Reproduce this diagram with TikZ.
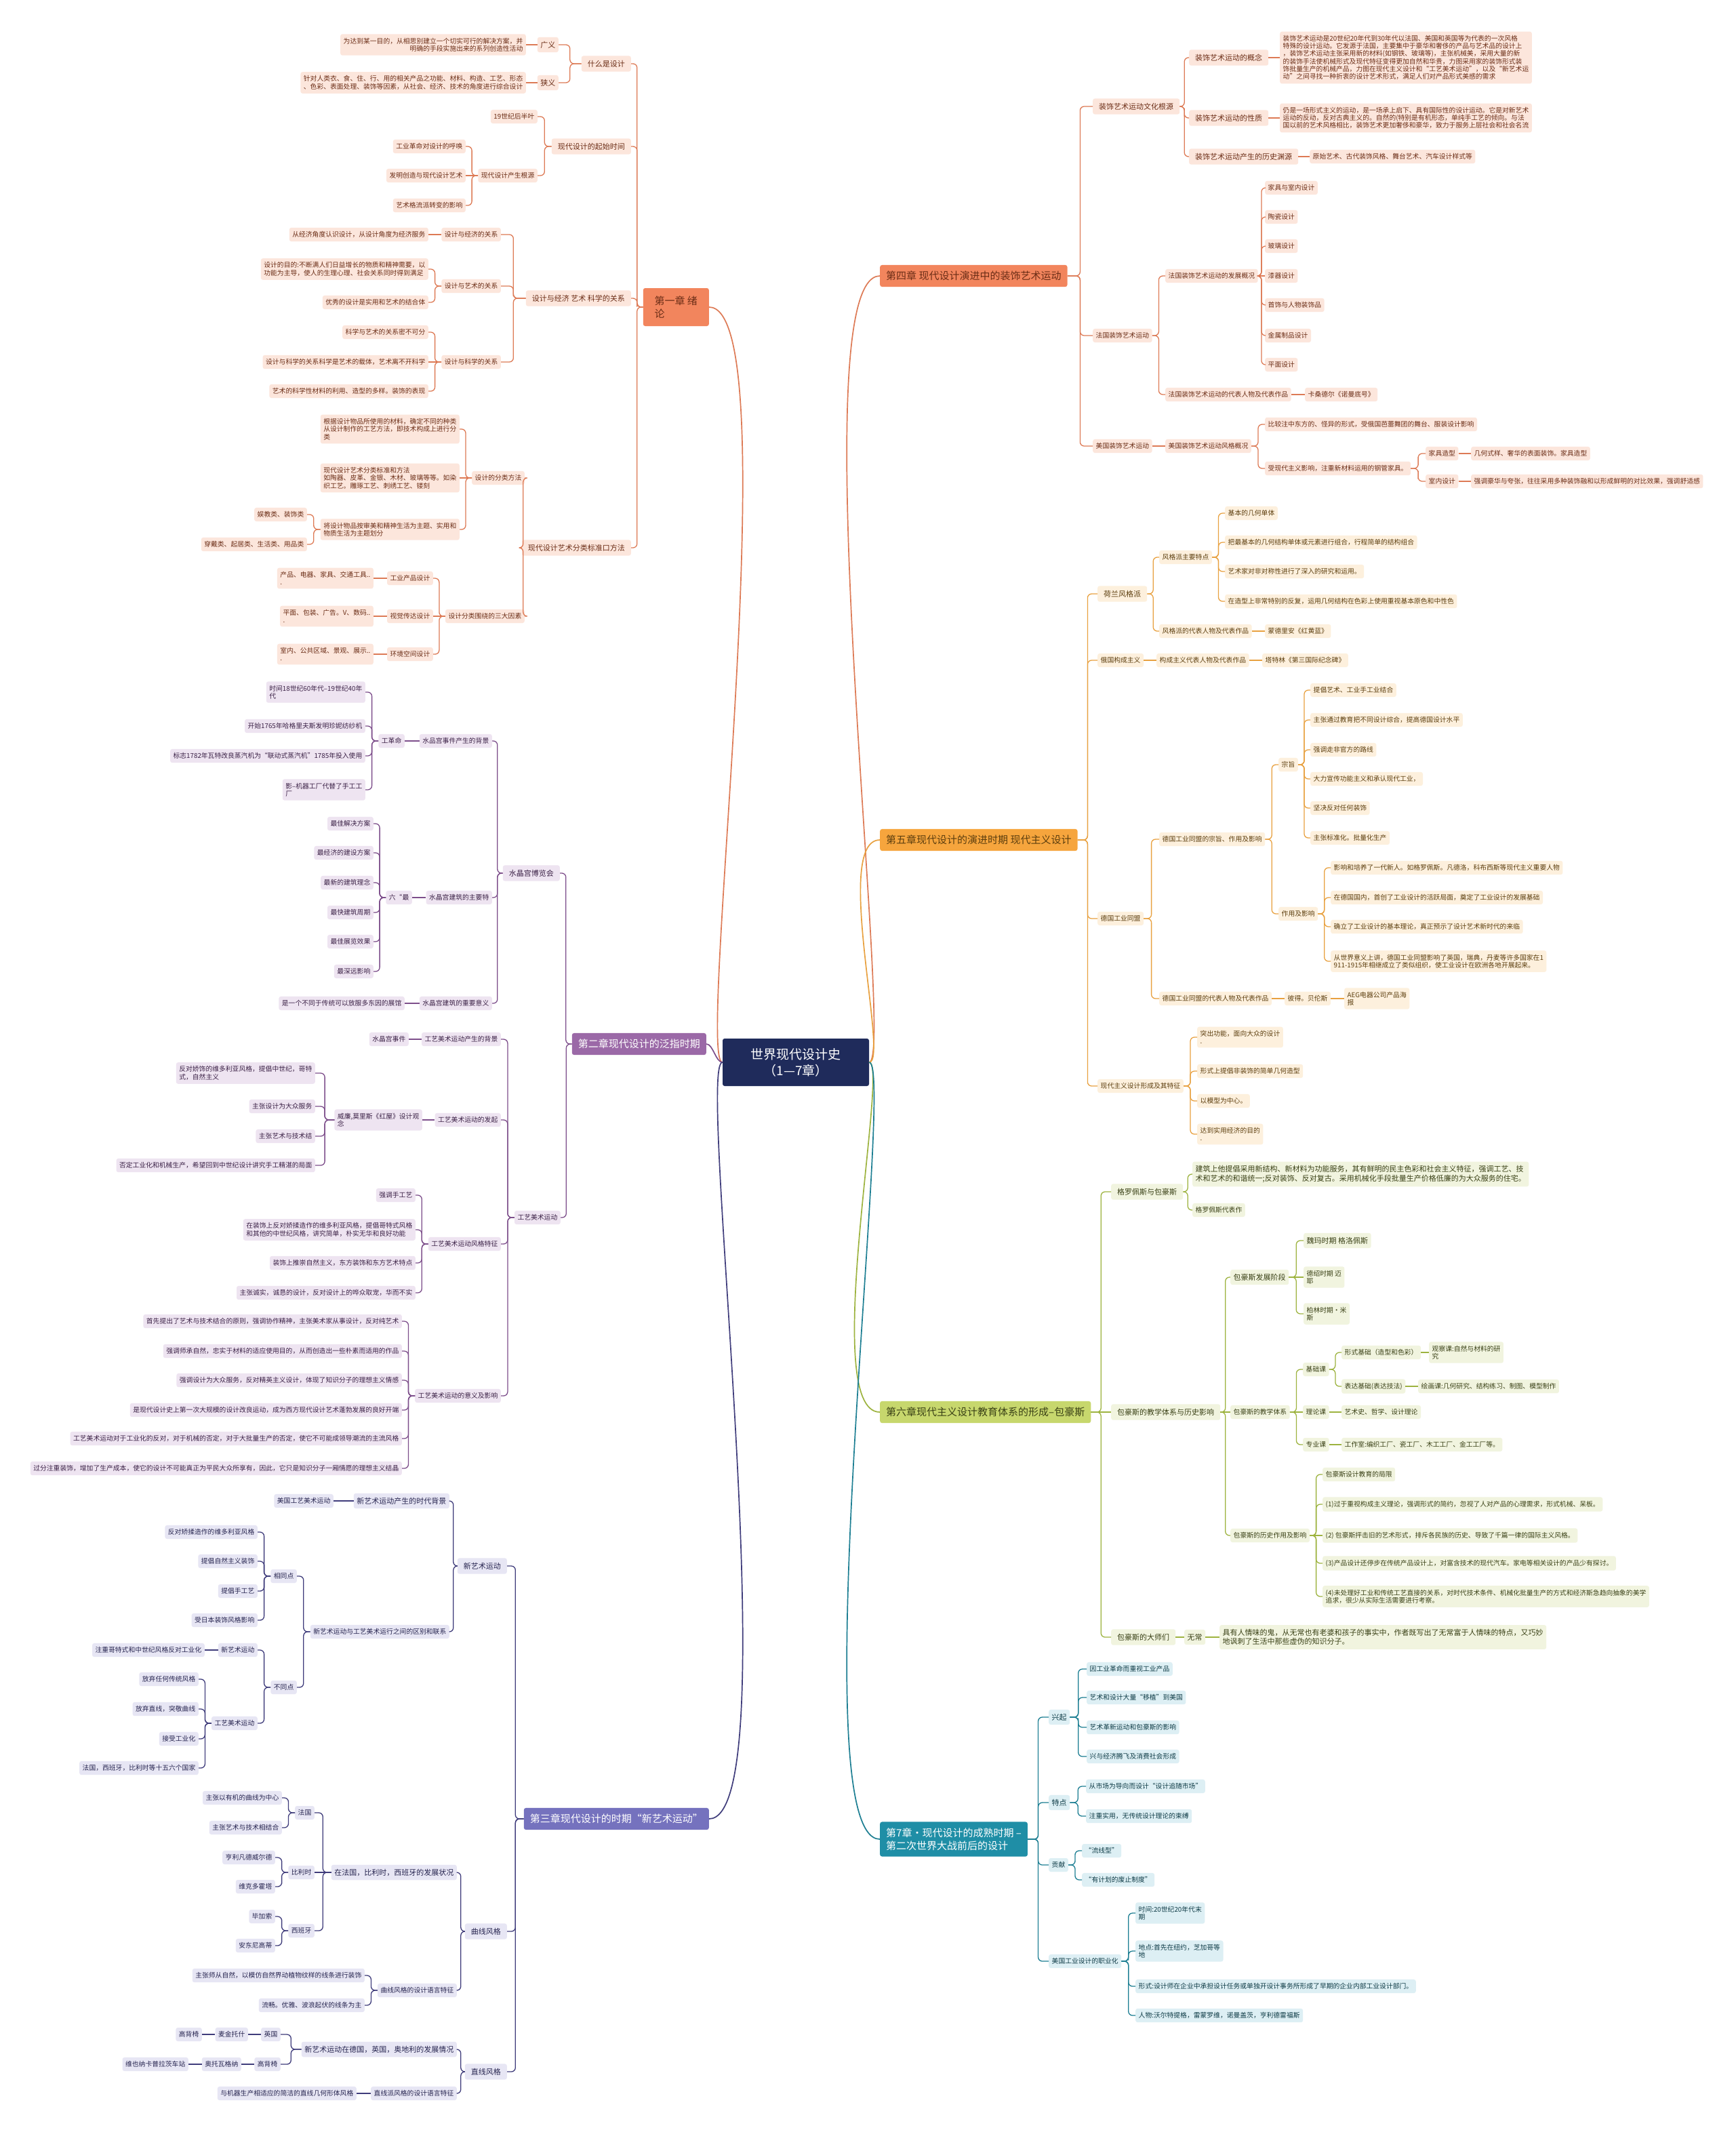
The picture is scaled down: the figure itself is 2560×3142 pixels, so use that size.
\documentclass[tikz,border=0pt]{standalone}
\usepackage{fontspec}
\setmainfont{Noto Sans CJK SC}
\usetikzlibrary{calc}
\definecolor{navy}{HTML}{1F2B5B}
\definecolor{coral}{HTML}{F2855D}
\definecolor{coralln}{HTML}{DD7A55}
\definecolor{coralbg}{HTML}{FCE6DC}
\definecolor{coraltx}{HTML}{6B2D16}
\definecolor{plum}{HTML}{9B69A7}
\definecolor{plumln}{HTML}{7D4E8B}
\definecolor{plumbg}{HTML}{EEE4F1}
\definecolor{plumtx}{HTML}{3B2146}
\definecolor{indigo}{HTML}{7572BE}
\definecolor{indigoln}{HTML}{3F3C7B}
\definecolor{indigobg}{HTML}{E7E6F4}
\definecolor{indigotx}{HTML}{26244F}
\definecolor{amber}{HTML}{F6A53D}
\definecolor{amberln}{HTML}{E8A140}
\definecolor{amberbg}{HTML}{FDF0DD}
\definecolor{ambertx}{HTML}{5C3E0E}
\definecolor{moss}{HTML}{C7D76D}
\definecolor{mossln}{HTML}{9DB33F}
\definecolor{mossbg}{HTML}{F1F4DF}
\definecolor{mosstx}{HTML}{394015}
\definecolor{lagoon}{HTML}{1F8EA6}
\definecolor{lagoonln}{HTML}{1C7E92}
\definecolor{lagoonbg}{HTML}{DDEFF4}
\definecolor{lagoontx}{HTML}{0E3B46}

\begin{document}
\begin{tikzpicture}[x=1pt,y=-1pt,
  every node/.style={inner xsep=4.5pt,inner ysep=5.5pt,rounded corners=3pt,align=left,
    font=\fontsize{9.8}{11.3}\selectfont},
  ae/.style={anchor=east},aw/.style={anchor=west},
  big/.style={font=\fontsize{11}{13.5}\selectfont,inner ysep=6pt},
  mid/.style={big,inner xsep=9pt,inner ysep=6.5pt},
  chap/.style={font=\fontsize{15}{19}\selectfont,inner xsep=9pt,inner ysep=9pt},
  coralnode/.style={fill=coralbg,text=coraltx},
  plumnode/.style={fill=plumbg,text=plumtx},
  indigonode/.style={fill=indigobg,text=indigotx},
  ambernode/.style={fill=amberbg,text=ambertx},
  mossnode/.style={fill=mossbg,text=mosstx},
  lagoonnode/.style={fill=lagoonbg,text=lagoontx},
  link/.style={line width=1.3pt,rounded corners=6pt},
  trunk/.style={line width=1.7pt}]
\useasboundingbox (0,0) rectangle (2560,3142);
\fill[white] (0,0) rectangle (2560,3142);

\node[fill=navy,text=white,font=\fontsize{19}{24}\selectfont,align=center,minimum width=216pt,minimum height=70pt] (root) at (1174,1567) {世界现代设计史\\（1—7章）};

% chapter 1
\node[chap,fill=coral,text=coraltx,ae,minimum width=97pt,minimum height=56pt] (c1) at (1046,453) {第一章 绪\\论};
\node[coralnode,mid,ae] (c1a) at (931,94) {什么是设计};
\node[coralnode,big,ae] (c1a1) at (824,66) {广义};
\node[coralnode,ae,align=right] (c1a1a) at (776,66) {为达到某一目的，从相思别建立一个切实可行的解决方案，并\\明确的手段实施出来的系列创造性活动};
\node[coralnode,big,ae] (c1a2) at (824,122) {狭义};
\node[coralnode,ae] (c1a2a) at (776,122) {针对人类衣、食、住、行、用的相关产品之功能、材料、构造、工艺、形态\\、色彩、表面处理、装饰等因素，从社会、经济、技术的角度进行综合设计};
\node[coralnode,mid,ae] (c1b) at (931,216) {现代设计的起始时间};
\node[coralnode,ae] (c1b1) at (793,172) {19世纪后半叶};
\node[coralnode,ae] (c1b2) at (793,259) {现代设计产生根源};
\node[coralnode,ae] (c1b2a) at (687,216) {工业革命对设计的呼唤};
\node[coralnode,ae] (c1b2b) at (687,259) {发明创造与现代设计艺术};
\node[coralnode,ae] (c1b2c) at (687,303) {艺术格流派转变的影响};
\node[coralnode,mid,ae] (c1c) at (931,440) {设计与经济 艺术 科学的关系};
\node[coralnode,ae] (c1c1) at (739,346) {设计与经济的关系};
\node[coralnode,ae] (c1c1a) at (632,346) {从经济角度认识设计，从设计角度为经济服务};
\node[coralnode,ae] (c1c2) at (739,422) {设计与艺术的关系};
\node[coralnode,ae] (c1c2a) at (632,397) {设计的目的:不断满人们日益增长的物质和精神需要，以\\功能为主导，使人的生理心理、社会关系同时得到满足};
\node[coralnode,ae] (c1c2b) at (632,446) {优秀的设计是实用和艺术的结合体};
\node[coralnode,ae] (c1c3) at (739,534) {设计与科学的关系};
\node[coralnode,ae] (c1c3a) at (632,490) {科学与艺术的关系密不可分};
\node[coralnode,ae] (c1c3b) at (632,534) {设计与科学的关系科学是艺术的载体，艺术离不开科学};
\node[coralnode,ae] (c1c3c) at (632,577) {艺术的科学性材料的利用、造型的多样。装饰的表现};
\node[coralnode,mid,ae] (c1d) at (931,808) {现代设计艺术分类标准口方法};
\node[coralnode,ae] (c1d1) at (774,705) {设计的分类方法};
\node[coralnode,ae] (c1d1a) at (678,633) {根据设计物品所使用的材料，确定不同的种类\\从设计制作的工艺方法，即技术构成上进行分\\类};
\node[coralnode,ae] (c1d1b) at (678,705) {现代设计艺术分类标准和方法\\如陶器、皮革、金银、木材、玻璃等等。如染\\织工艺。雕琢工艺、刺绣工艺、镂刻};
\node[coralnode,ae] (c1d1c) at (678,781) {将设计物品按审美和精神生活为主题、实用和\\物质生活为主题划分};
\node[coralnode,ae] (c1d1c1) at (453,759) {娱教类、装饰类};
\node[coralnode,ae] (c1d1c2) at (453,803) {穿戴类、起居类、生活类、用品类};
\node[coralnode,ae] (c1d2) at (774,909) {设计分类围绕的三大因素};
\node[coralnode,ae] (c1d2a) at (639,853) {工业产品设计};
\node[coralnode,ae] (c1d2a1) at (551,853) {产品、电器、家具、交通工具..\\.};
\node[coralnode,ae] (c1d2b) at (639,909) {视觉传达设计};
\node[coralnode,ae] (c1d2b1) at (551,909) {平面、包装、广告。V、数码..\\.};
\node[coralnode,ae] (c1d2c) at (639,965) {环境空间设计};
\node[coralnode,ae] (c1d2c1) at (551,965) {室内、公共区域、景观、展示..\\.};

% chapter 2
\node[chap,fill=plum,text=white,ae] (c2) at (1042,1540) {第二章现代设计的泛指时期};
\node[plumnode,mid,ae] (c2a) at (826,1288) {水晶宫博览会};
\node[plumnode,ae] (c2a1) at (726,1093) {水品宫事件产生的背景};
\node[plumnode,ae] (c2a1a) at (597,1093) {工革命};
\node[plumnode,ae] (c2a1a1) at (539,1021) {时间18世纪60年代--19世纪40年\\代};
\node[plumnode,ae] (c2a1a2) at (539,1071) {开始1765年哈格里夫斯发明珍妮纺纱机};
\node[plumnode,ae] (c2a1a3) at (539,1115) {标志1782年瓦特改良蒸汽机为“联动式蒸汽机”1785年投入使用};
\node[plumnode,ae] (c2a1a4) at (539,1165) {影–机器工厂代替了手工工\\厂};
\node[plumnode,ae] (c2a2) at (726,1324) {水晶宫建筑的主要特};
\node[plumnode,ae] (c2a2a) at (608,1324) {六“最};
\node[plumnode,ae] (c2a2a1) at (551,1215) {最佳解决方案};
\node[plumnode,ae] (c2a2a2) at (551,1258) {最经济的建设方案};
\node[plumnode,ae] (c2a2a3) at (551,1302) {最新的建筑理念};
\node[plumnode,ae] (c2a2a4) at (551,1346) {最快建筑周期};
\node[plumnode,ae] (c2a2a5) at (551,1389) {最佳展览效果};
\node[plumnode,ae] (c2a2a6) at (551,1433) {最深远影响};
\node[plumnode,ae] (c2a3) at (726,1480) {水晶宫建筑的重要意义};
\node[plumnode,ae] (c2a3a) at (597,1480) {是一个不同于传统可以放服多东因的展馆};
\node[plumnode,ae] (c2b) at (827,1796) {工艺美术运动};
\node[plumnode,ae] (c2b1) at (739,1533) {工艺美术运动产生的背景};
\node[plumnode,ae] (c2b1a) at (603,1533) {水晶宫事件};
\node[plumnode,ae] (c2b2) at (739,1652) {工艺美术运动的发起};
\node[plumnode,ae] (c2b2a) at (623,1652) {威廉,莫里斯《红屋》设计观\\念};
\node[plumnode,ae] (c2b2a1) at (465,1583) {反对娇饰的维多利亚风格，提倡中世纪，哥特\\式，自然主义};
\node[plumnode,ae] (c2b2a2) at (465,1632) {主张设计为大众服务};
\node[plumnode,ae] (c2b2a3) at (465,1676) {主张艺术与技术结};
\node[plumnode,ae] (c2b2a4) at (465,1719) {否定工业化和机械生产，希望回到中世纪设计讲究手工精湛的局面};
\node[plumnode,ae] (c2b3) at (739,1835) {工艺美术运动风格特征};
\node[plumnode,ae] (c2b3a) at (613,1763) {强调手工艺};
\node[plumnode,ae] (c2b3b) at (613,1814) {在装饰上反对娇揉造作的维多利亚风格，提倡哥特式风格\\和其他的中世纪风格，讲究简单，朴实无华和良好功能};
\node[plumnode,ae] (c2b3c) at (613,1863) {装饰上推崇自然主义，东方装饰和东方艺术特点};
\node[plumnode,ae] (c2b3d) at (613,1907) {主张诚实，诚恳的设计，反对设计上的哗众取宠，华而不实};
\node[plumnode,ae] (c2b4) at (739,2059) {工艺美术运动的意义及影响};
\node[plumnode,ae] (c2b4a) at (593,1949) {首先提出了艺术与技术结合的原则，强调协作精神，主张美术家从事设计，反对纯艺术};
\node[plumnode,ae] (c2b4b) at (593,1993) {强调师承自然，忠实于材料的适应使用目的，从而创造出一些朴素而适用的作品};
\node[plumnode,ae] (c2b4c) at (593,2036) {强调设计为大众服务，反对精英主义设计，体现了知识分子的理想主义情感};
\node[plumnode,ae] (c2b4d) at (593,2080) {是现代设计史上第一次大规模的设计改良运动，成为西方现代设计艺术蓬勃发展的良好开端};
\node[plumnode,ae] (c2b4e) at (593,2122) {工艺美术运动对于工业化的反对，对于机械的否定，对于大批量生产的否定，使它不可能成领导潮流的主流风格};
\node[plumnode,ae] (c2b4f) at (593,2166) {过分注重装饰，增加了生产成本，使它的设计不可能真正为平民大众所享有，因此，它只是知识分子一厢情愿的理想主义结晶};

% chapter 3
\node[chap,fill=indigo,text=white,ae] (c3) at (1046,2683) {第三章现代设计的时期“新艺术运动”};
\node[indigonode,mid,ae] (c3a) at (748,2310) {新艺术运动};
\node[indigonode,big,ae] (c3a1) at (663,2214) {新艺术运动产生的时代背景};
\node[indigonode,ae] (c3a1a) at (492,2214) {美国工艺美术运动};
\node[indigonode,ae] (c3a2) at (663,2407) {新艺术运动与工艺美术运行之间的区别和联系};
\node[indigonode,ae] (c3a2a) at (438,2325) {相同点};
\node[indigonode,ae] (c3a2a1) at (380,2260) {反对矫揉造作的维多利亚风格};
\node[indigonode,ae] (c3a2a2) at (380,2303) {提倡自然主义装饰};
\node[indigonode,ae] (c3a2a3) at (380,2347) {提倡手工艺};
\node[indigonode,ae] (c3a2a4) at (380,2390) {受日本装饰风格影响};
\node[indigonode,ae] (c3a2b) at (438,2489) {不同点};
\node[indigonode,ae] (c3a2b1) at (380,2434) {新艺术运动};
\node[indigonode,ae] (c3a2b1a) at (302,2434) {注重哥特式和中世纪风格反对工业化};
\node[indigonode,ae] (c3a2b2) at (380,2542) {工艺美术运动};
\node[indigonode,ae] (c3a2b2a) at (293,2477) {放弃任何传统风格};
\node[indigonode,ae] (c3a2b2b) at (293,2521) {放弃直线，突敬曲线};
\node[indigonode,ae] (c3a2b2c) at (293,2565) {接受工业化};
\node[indigonode,ae] (c3a2b2d) at (293,2608) {法国，西班牙，比利时等十五六个国家};
\node[indigonode,mid,ae] (c3b) at (748,2849) {曲线风格};
\node[indigonode,big,ae] (c3b1) at (674,2762) {在法国，比利时，西班牙的发展状况};
\node[indigonode,ae] (c3b1a) at (464,2674) {法国};
\node[indigonode,ae] (c3b1a1) at (416,2652) {主张以有机的曲线为中心};
\node[indigonode,ae] (c3b1a2) at (416,2696) {主张艺术与技术相结合};
\node[indigonode,ae] (c3b1b) at (464,2762) {比利时};
\node[indigonode,ae] (c3b1b1) at (406,2740) {亨利凡德威尔德};
\node[indigonode,ae] (c3b1b2) at (406,2783) {维克多霍塔};
\node[indigonode,ae] (c3b1c) at (464,2848) {西班牙};
\node[indigonode,ae] (c3b1c1) at (406,2827) {毕加索};
\node[indigonode,ae] (c3b1c2) at (406,2870) {安东尼高蒂};
\node[indigonode,ae] (c3b2) at (674,2936) {曲线风格的设计语言特征};
\node[indigonode,ae] (c3b2a) at (538,2914) {主张师从自然，以模仿自然界动植物纹样的线条进行装饰};
\node[indigonode,ae] (c3b2b) at (538,2958) {流畅。优雅、波浪起伏的线条为主};
\node[indigonode,mid,ae] (c3c) at (748,3056) {直线风格};
\node[indigonode,big,ae] (c3c1) at (674,3023) {新艺术运动在德国，英国，奥地利的发展情况};
\node[indigonode,ae] (c3c1a) at (414,3001) {英国};
\node[indigonode,ae] (c3c1a1) at (366,3001) {麦金托什};
\node[indigonode,ae] (c3c1a2) at (298,3001) {高背椅};
\node[indigonode,ae] (c3c1b) at (414,3045) {高背椅};
\node[indigonode,ae] (c3c1b1) at (356,3045) {奥托瓦格纳};
\node[indigonode,ae] (c3c1b2) at (278,3045) {维也纳卡普拉茨车站};
\node[indigonode,ae] (c3c2) at (674,3088) {直线派风格的设计语言特征};
\node[indigonode,ae] (c3c2a) at (526,3088) {与机器生产相适应的简洁的直线几何形体风格};

% chapter 4
\node[chap,fill=coral,text=coraltx,aw] (c4) at (1298,407) {第四章 现代设计演进中的装饰艺术运动};
\node[coralnode,mid,aw] (c4a) at (1612,157) {装饰艺术运动文化根源};
\node[coralnode,mid,aw] (c4a1) at (1754,85) {装饰艺术运动的概念};
\node[coralnode,aw] (c4a1a) at (1888,85) {装饰艺术运动是20世纪20年代到30年代以法国、美国和英国等为代表的一次风格\\特殊的设计运动。它发源于法国，主要集中于豪华和奢侈的产品与艺术品的设计上\\，装饰艺术运动主张采用新的材料(如钢铁、玻璃等)，主张机械美，采用大量的新\\的装饰手法使机械形式及现代特征变得更加自然和华贵，力图采用家的装饰形式装\\饰批量生产的机械产品，力图在现代主义设计和“工艺美术运动”，以及“新艺术运\\动”之间寻找一种折衷的设计艺术形式，满足人们对产品形式美感的需求};
\node[coralnode,mid,aw] (c4a2) at (1754,174) {装饰艺术运动的性质};
\node[coralnode,aw] (c4a2a) at (1888,174) {仍是一场形式主义的运动，是一场承上启下、具有国际性的设计运动。它是对新艺术\\运动的反动，反对古典主义的。自然的(特别是有机形态，单纯手工艺的倾向。与法\\国以前的艺术风格相比，装饰艺术更加奢侈和豪华，致力于服务上层社会和社会名流};
\node[coralnode,mid,aw] (c4a3) at (1754,231) {装饰艺术运动产生的历史渊源};
\node[coralnode,aw] (c4a3a) at (1932,231) {原始艺术、古代装饰风格、舞台艺术、汽车设计样式等};
\node[coralnode,aw] (c4b) at (1612,495) {法国装饰艺术运动};
\node[coralnode,aw] (c4b1) at (1719,407) {法国装饰艺术运动的发展概况};
\node[coralnode,aw] (c4b1a) at (1866,277) {家具与室内设计};
\node[coralnode,aw] (c4b1b) at (1866,320) {陶瓷设计};
\node[coralnode,aw] (c4b1c) at (1866,363) {玻璃设计};
\node[coralnode,aw] (c4b1d) at (1866,407) {漆器设计};
\node[coralnode,aw] (c4b1e) at (1866,450) {首饰与人物装饰品};
\node[coralnode,aw] (c4b1f) at (1866,495) {金属制品设计};
\node[coralnode,aw] (c4b1g) at (1866,538) {平面设计};
\node[coralnode,aw] (c4b2) at (1719,582) {法国装饰艺术运动的代表人物及代表作品};
\node[coralnode,aw] (c4b2a) at (1925,582) {卡桑德尔《诺曼底号》};
\node[coralnode,aw] (c4c) at (1612,658) {美国装饰艺术运动};
\node[coralnode,aw] (c4c1) at (1719,658) {美国装饰艺术运动风格概况};
\node[coralnode,aw] (c4c1a) at (1866,626) {比较注中东方的、怪异的形式，受俄国芭蕾舞团的舞台、服装设计影响};
\node[coralnode,aw] (c4c1b) at (1866,691) {受现代主义影响，注重新材料运用的钢管家具。};
\node[coralnode,aw] (c4c1b1) at (2103,669) {家具造型};
\node[coralnode,aw] (c4c1b1a) at (2170,669) {几何式样、奢华的表面装饰。家具造型};
\node[coralnode,aw] (c4c1b2) at (2103,710) {室内设计};
\node[coralnode,aw] (c4c1b2a) at (2170,710) {强调豪华与夸张，往往采用多种装饰融和以形成鲜明的对比效果，强调舒适感};

% chapter 5
\node[chap,fill=amber,text=ambertx,aw] (c5) at (1298,1239) {第五章现代设计的演进时期 现代主义设计};
\node[ambernode,mid,aw] (c5a) at (1619,876) {荷兰风格派};
\node[ambernode,aw] (c5a1) at (1710,822) {风格派主要特点};
\node[ambernode,aw] (c5a1a) at (1807,757) {基本的几何单体};
\node[ambernode,aw] (c5a1b) at (1807,800) {把最基本的几何结构单体或元素进行组合，行程简单的结构组合};
\node[ambernode,aw] (c5a1c) at (1807,843) {艺术家对非对称性进行了深入的研究和运用。};
\node[ambernode,aw] (c5a1d) at (1807,887) {在造型上非常特别的反复，运用几何结构在色彩上使用重视基本原色和中性色};
\node[ambernode,aw] (c5a2) at (1710,931) {风格派的代表人物及代表作品};
\node[ambernode,aw] (c5a2a) at (1866,931) {蒙德里安《红黄蓝》};
\node[ambernode,aw] (c5b) at (1619,974) {俄国构成主义};
\node[ambernode,aw] (c5b1) at (1706,974) {构成主义代表人物及代表作品};
\node[ambernode,aw] (c5b1a) at (1862,974) {塔特林《第三国际纪念碑》};
\node[ambernode,aw] (c5c) at (1619,1355) {德国工业同盟};
\node[ambernode,aw] (c5c1) at (1710,1238) {德国工业同盟的宗旨、作用及影响};
\node[ambernode,aw] (c5c1a) at (1886,1128) {宗旨};
\node[ambernode,aw] (c5c1a1) at (1933,1018) {提倡艺术、工业手工业结合};
\node[ambernode,aw] (c5c1a2) at (1933,1062) {主张通过教育把不同设计综合，提高德国设计水平};
\node[ambernode,aw] (c5c1a3) at (1933,1106) {强调走非官方的路线};
\node[ambernode,aw] (c5c1a4) at (1933,1149) {大力宣传功能主义和承认现代工业，};
\node[ambernode,aw] (c5c1a5) at (1933,1192) {坚决反对任何装饰};
\node[ambernode,aw] (c5c1a6) at (1933,1236) {主张标准化。批量化生产};
\node[ambernode,aw] (c5c1b) at (1886,1348) {作用及影响};
\node[ambernode,aw] (c5c1b1) at (1963,1280) {影响和培养了一代新人。如格罗佩斯。凡德洛，科布西斯等现代主义重要人物};
\node[ambernode,aw] (c5c1b2) at (1963,1324) {在德国国内，首创了工业设计的活跃局面，奠定了工业设计的发展基础};
\node[ambernode,aw] (c5c1b3) at (1963,1367) {确立了工业设计的基本理论，真正预示了设计艺术新时代的来临};
\node[ambernode,aw] (c5c1b4) at (1963,1418) {从世界意义上讲，德国工业同盟影响了英国，瑞典，丹麦等许多国家在1\\911-1915年相继成立了类似组织，使工业设计在欧洲各地开展起来。};
\node[ambernode,aw] (c5c2) at (1710,1473) {德国工业同盟的代表人物及代表作品};
\node[ambernode,aw] (c5c2a) at (1895,1473) {彼得。贝伦斯};
\node[ambernode,aw] (c5c2b) at (1983,1473) {AEG电器公司产品海\\报};
\node[ambernode,aw] (c5d) at (1619,1602) {现代主义设计形成及其特征};
\node[ambernode,aw] (c5d1) at (1766,1530) {突出功能，面向大众的设计\\.};
\node[ambernode,aw] (c5d2) at (1766,1580) {形式上提倡非装饰的简单几何造型};
\node[ambernode,aw] (c5d3) at (1766,1624) {以模型为中心。};
\node[ambernode,aw] (c5d4) at (1766,1673) {达到实用经济的目的\\.};

% chapter 6
\node[chap,fill=moss,text=mosstx,aw] (c6) at (1298,2083) {第六章现代主义设计教育体系的形成–包豪斯};
\node[mossnode,mid,aw] (c6a) at (1639,1758) {格罗佩斯与包豪斯};
\node[mossnode,big,aw] (c6a1) at (1759,1732) {建筑上他提倡采用新结构、新材料为功能服务，其有鲜明的民主色彩和社会主义特征，强调工艺、技\\术和艺术的和谐统一;反对装饰、反对复古。采用机械化手段批量生产价格低廉的为大众服务的住宅。};
\node[mossnode,aw] (c6a2) at (1759,1785) {格罗佩斯代表作};
\node[mossnode,mid,aw] (c6b) at (1639,2083) {包豪斯的教学体系与历史影响};
\node[mossnode,big,aw] (c6b1) at (1815,1884) {包豪斯发展阶段};
\node[mossnode,big,aw] (c6b1a) at (1923,1830) {魏玛时期 格洛佩斯};
\node[mossnode,aw] (c6b1b) at (1923,1884) {德绍时期 迈\\耶};
\node[mossnode,aw] (c6b1c) at (1923,1938) {柏林时期·米\\斯};
\node[mossnode,aw] (c6b2) at (1815,2083) {包豪斯的教学体系};
\node[mossnode,aw] (c6b2a) at (1922,2020) {基础课};
\node[mossnode,aw] (c6b2a1) at (1979,1995) {形式基础（造型和色彩）};
\node[mossnode,aw] (c6b2a1a) at (2108,1995) {观察课:自然与材料的研\\究};
\node[mossnode,aw] (c6b2a2) at (1979,2045) {表达基础(表达技法)};
\node[mossnode,aw] (c6b2a2a) at (2092,2045) {绘画课:几何研究、结构练习、制图、模型制作};
\node[mossnode,aw] (c6b2b) at (1922,2083) {理论课};
\node[mossnode,aw] (c6b2b1) at (1979,2083) {艺术史、哲学、设计理论};
\node[mossnode,aw] (c6b2c) at (1922,2131) {专业课};
\node[mossnode,aw] (c6b2c1) at (1979,2131) {工作室:编织工厂、瓷工厂、木工工厂、金工工厂等。};
\node[mossnode,aw] (c6b3) at (1815,2265) {包豪斯的历史作用及影响};
\node[mossnode,aw] (c6b3a) at (1951,2175) {包豪斯设计教育的局限};
\node[mossnode,aw] (c6b3b) at (1951,2219) {(1)过于重视构成主义理论，强调形式的简约，忽视了人对产品的心理需求，形式机械、呆板。};
\node[mossnode,aw] (c6b3c) at (1951,2265) {(2) 包豪斯抨击旧的艺术形式，排斥各民族的历史、导致了千篇一律的国际主义风格。};
\node[mossnode,aw] (c6b3d) at (1951,2306) {(3)产品设计还停步在传统产品设计上，对富含技术的现代汽车。家电等相关设计的产品少有探讨。};
\node[mossnode,aw] (c6b3e) at (1951,2355) {(4)未处理好工业和传统工艺直接的关系，对时代技术条件、机械化批量生产的方式和经济斯急趋向抽象的美学\\追求，很少从实际生活需要进行考察。};
\node[mossnode,mid,aw] (c6c) at (1639,2415) {包豪斯的大师们};
\node[mossnode,big,aw] (c6c1) at (1747,2415) {无常};
\node[mossnode,big,aw] (c6c1a) at (1799,2415) {具有人情味的鬼，从无常也有老婆和孩子的事实中，作者既写出了无常富于人情味的特点，又巧妙\\地讽刺了生活中那些虚伪的知识分子。};

% chapter 7
\node[chap,fill=lagoon,text=white,aw] (c7) at (1298,2713) {第7章·现代设计的成熟时期 –\\第二次世界大战前后的设计};
\node[lagoonnode,big,aw] (c7a) at (1547,2533) {兴起};
\node[lagoonnode,aw] (c7a1) at (1603,2462) {因工业革命而重视工业产品};
\node[lagoonnode,aw] (c7a2) at (1603,2504) {艺术和设计大量“移植”到美国};
\node[lagoonnode,aw] (c7a3) at (1603,2548) {艺术革新运动和包豪斯的影响};
\node[lagoonnode,aw] (c7a4) at (1603,2591) {兴与经济腾飞及消费社会形成};
\node[lagoonnode,big,aw] (c7b) at (1547,2659) {特点};
\node[lagoonnode,aw] (c7b1) at (1602,2635) {从市场为导向而设计“设计追随市场”};
\node[lagoonnode,aw] (c7b2) at (1602,2679) {注重实用，无传统设计理论的束缚};
\node[lagoonnode,aw] (c7c) at (1547,2751) {贡献};
\node[lagoonnode,aw] (c7c1) at (1596,2730) {“流线型”};
\node[lagoonnode,aw] (c7c2) at (1596,2773) {“有计划的废止制度”};
\node[lagoonnode,aw] (c7d) at (1547,2893) {美国工业设计的职业化};
\node[lagoonnode,aw] (c7d1) at (1675,2822) {时间:20世纪20年代末\\期};
\node[lagoonnode,aw] (c7d2) at (1675,2878) {地点:首先在纽约，芝加哥等\\地};
\node[lagoonnode,aw] (c7d3) at (1675,2930) {形式:设计师在企业中承担设计任务或单独开设计事务所形成了早期的企业内部工业设计部门。};
\node[lagoonnode,aw] (c7d4) at (1675,2973) {人物:沃尔特提格，雷蒙罗维，诺曼盖茨，亨利德雷福斯};

% trunks from the root
\draw[trunk,coralln] (root.west) .. controls +(-40,0) and +(120,0) .. (c1.east);
\draw[trunk,plumln] (root.west) .. controls +(-10,0) and +(10,0) .. (c2.east);
\draw[trunk,indigoln] (root.west) .. controls +(-40,0) and +(120,0) .. (c3.east);
\draw[trunk,coralln] (root.east) .. controls +(40,0) and +(-120,0) .. (c4.west);
\draw[trunk,amberln] (root.east) .. controls +(30,0) and +(-70,0) .. (c5.west);
\draw[trunk,mossln] (root.east) .. controls +(30,0) and +(-90,0) .. (c6.west);
\draw[trunk,lagoonln] (root.east) .. controls +(40,0) and +(-120,0) .. (c7.west);

% left branches
\foreach \p/\c in {c1/c1a,c1/c1b,c1/c1c,c1/c1d,c1a/c1a1,c1a/c1a2,c1b/c1b1,c1b/c1b2,
    c1b2/c1b2a,c1b2/c1b2c,c1c/c1c1,c1c/c1c2,c1c/c1c3,c1c2/c1c2a,c1c2/c1c2b,c1c3/c1c3a,
    c1c3/c1c3c,c1d/c1d1,c1d/c1d2,c1d1/c1d1a,c1d1/c1d1c,c1d1c/c1d1c1,c1d1c/c1d1c2,
    c1d2/c1d2a,c1d2/c1d2c}
  \draw[link,coralln] (\c.east) -| ($(\c.east)!0.5!(\p.west)$) |- (\p.west);
\foreach \p/\c in {c1a1/c1a1a,c1a2/c1a2a,c1b2/c1b2b,c1c1/c1c1a,c1c3/c1c3b,c1d1/c1d1b,
    c1d2/c1d2b,c1d2a/c1d2a1,c1d2b/c1d2b1,c1d2c/c1d2c1}
  \draw[link,coralln] (\c.east) -- (\p.west);

\foreach \p/\c in {c2/c2a,c2/c2b,c2a/c2a1,c2a/c2a2,c2a/c2a3,c2a1a/c2a1a1,c2a1a/c2a1a2,
    c2a1a/c2a1a3,c2a1a/c2a1a4,c2a2a/c2a2a1,c2a2a/c2a2a2,c2a2a/c2a2a3,c2a2a/c2a2a4,
    c2a2a/c2a2a5,c2a2a/c2a2a6,c2b/c2b1,c2b/c2b2,c2b/c2b3,c2b/c2b4,c2b2a/c2b2a1,
    c2b2a/c2b2a2,c2b2a/c2b2a3,c2b2a/c2b2a4,c2b3/c2b3a,c2b3/c2b3b,c2b3/c2b3c,c2b3/c2b3d,
    c2b4/c2b4a,c2b4/c2b4b,c2b4/c2b4c,c2b4/c2b4d,c2b4/c2b4e,c2b4/c2b4f}
  \draw[link,plumln] (\c.east) -| ($(\c.east)!0.5!(\p.west)$) |- (\p.west);
\foreach \p/\c in {c2a1/c2a1a,c2a2/c2a2a,c2a3/c2a3a,c2b1/c2b1a,c2b2/c2b2a}
  \draw[link,plumln] (\c.east) -- (\p.west);

\foreach \p/\c in {c3/c3a,c3/c3b,c3/c3c,c3a/c3a1,c3a/c3a2,c3a2/c3a2a,c3a2/c3a2b,
    c3a2a/c3a2a1,c3a2a/c3a2a2,c3a2a/c3a2a3,c3a2a/c3a2a4,c3a2b/c3a2b1,c3a2b/c3a2b2,
    c3a2b2/c3a2b2a,c3a2b2/c3a2b2b,c3a2b2/c3a2b2c,c3a2b2/c3a2b2d,c3b/c3b1,c3b/c3b2,
    c3b1/c3b1a,c3b1/c3b1c,c3b1a/c3b1a1,c3b1a/c3b1a2,c3b1b/c3b1b1,c3b1b/c3b1b2,
    c3b1c/c3b1c1,c3b1c/c3b1c2,c3b2/c3b2a,c3b2/c3b2b,c3c/c3c1,c3c/c3c2,c3c1/c3c1a,c3c1/c3c1b}
  \draw[link,indigoln] (\c.east) -| ($(\c.east)!0.5!(\p.west)$) |- (\p.west);
\foreach \p/\c in {c3a1/c3a1a,c3a2b1/c3a2b1a,c3b1/c3b1b,c3c1a/c3c1a1,c3c1a1/c3c1a2,
    c3c1b/c3c1b1,c3c1b1/c3c1b2,c3c2/c3c2a}
  \draw[link,indigoln] (\c.east) -- (\p.west);

% right branches
\foreach \p/\c in {c4/c4a,c4/c4b,c4/c4c,c4a/c4a1,c4a/c4a2,c4a/c4a3,c4b/c4b1,c4b/c4b2,
    c4b1/c4b1a,c4b1/c4b1b,c4b1/c4b1c,c4b1/c4b1e,c4b1/c4b1f,c4b1/c4b1g,c4c1/c4c1a,
    c4c1/c4c1b,c4c1b/c4c1b1,c4c1b/c4c1b2}
  \draw[link,coralln] (\p.east) -| ($(\p.east)!0.5!(\c.west)$) |- (\c.west);
\foreach \p/\c in {c4a1/c4a1a,c4a2/c4a2a,c4a3/c4a3a,c4b1/c4b1d,c4b2/c4b2a,c4c/c4c1,
    c4c1b1/c4c1b1a,c4c1b2/c4c1b2a}
  \draw[link,coralln] (\p.east) -- (\c.west);

\foreach \p/\c in {c5/c5a,c5/c5b,c5/c5c,c5/c5d,c5a/c5a1,c5a/c5a2,c5a1/c5a1a,c5a1/c5a1b,
    c5a1/c5a1c,c5a1/c5a1d,c5c/c5c1,c5c/c5c2,c5c1/c5c1a,c5c1/c5c1b,c5c1a/c5c1a1,
    c5c1a/c5c1a2,c5c1a/c5c1a3,c5c1a/c5c1a4,c5c1a/c5c1a5,c5c1a/c5c1a6,c5c1b/c5c1b1,
    c5c1b/c5c1b2,c5c1b/c5c1b3,c5c1b/c5c1b4,c5d/c5d1,c5d/c5d2,c5d/c5d3,c5d/c5d4}
  \draw[link,amberln] (\p.east) -| ($(\p.east)!0.5!(\c.west)$) |- (\c.west);
\foreach \p/\c in {c5a2/c5a2a,c5b/c5b1,c5b1/c5b1a,c5c2/c5c2a,c5c2a/c5c2b}
  \draw[link,amberln] (\p.east) -- (\c.west);

\foreach \p/\c in {c6/c6a,c6/c6c,c6a/c6a1,c6a/c6a2,c6b/c6b1,c6b/c6b3,c6b1/c6b1a,
    c6b1/c6b1c,c6b2/c6b2a,c6b2/c6b2c,c6b2a/c6b2a1,c6b2a/c6b2a2,c6b3/c6b3a,c6b3/c6b3b,
    c6b3/c6b3d,c6b3/c6b3e}
  \draw[link,mossln] (\p.east) -| ($(\p.east)!0.5!(\c.west)$) |- (\c.west);
\foreach \p/\c in {c6/c6b,c6b/c6b2,c6b1/c6b1b,c6b2/c6b2b,c6b2b/c6b2b1,c6b2c/c6b2c1,
    c6b2a1/c6b2a1a,c6b2a2/c6b2a2a,c6b3/c6b3c,c6c/c6c1,c6c1/c6c1a}
  \draw[link,mossln] (\p.east) -- (\c.west);

\foreach \p/\c in {c7/c7a,c7/c7b,c7/c7c,c7/c7d,c7a/c7a1,c7a/c7a2,c7a/c7a3,c7a/c7a4,
    c7b/c7b1,c7b/c7b2,c7c/c7c1,c7c/c7c2,c7d/c7d1,c7d/c7d2,c7d/c7d3,c7d/c7d4}
  \draw[link,lagoonln] (\p.east) -| ($(\p.east)!0.5!(\c.west)$) |- (\c.west);
\end{tikzpicture}
\end{document}
